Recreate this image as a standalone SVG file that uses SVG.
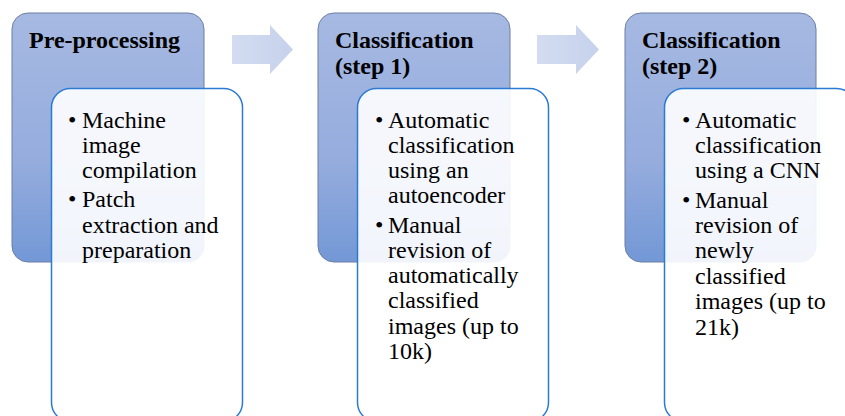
<svg xmlns="http://www.w3.org/2000/svg" width="845" height="416" viewBox="0 0 845 416">
  <defs>
    <linearGradient id="stageFill" x1="0" y1="0" x2="0" y2="1">
      <stop offset="0" stop-color="#a6b9e2"/>
      <stop offset="0.6" stop-color="#95acdd"/>
      <stop offset="1" stop-color="#7398d6"/>
    </linearGradient>
    <linearGradient id="arrowFill" x1="0" y1="0" x2="1" y2="0">
      <stop offset="0" stop-color="#d3dcf0"/>
      <stop offset="1" stop-color="#c6d2ec"/>
    </linearGradient>
  </defs>
  <style>
    .stage { fill: url(#stageFill); stroke: #6d7fa3; stroke-width: 1; }
    .detail { fill: #ffffff; fill-opacity: 0.9; stroke: #2b7bd3; stroke-width: 1.5; }
    .arrow { fill: url(#arrowFill); }
  </style>

  <rect width="845" height="416" fill="#ffffff"/>

  <!-- flow arrows between stages -->
  <g id="connectors">
    <polygon class="arrow" points="232,35 270,35 270,25 293,49.5 270,74 270,64 232,64"/>
    <polygon class="arrow" points="537,35 576,35 576,25 599,49.5 576,74 576,64 537,64"/>
  </g>

  <!-- stage 1 -->
  <g id="preprocessing" font-family="Liberation Serif" font-size="24" font-weight="bold">
    <rect class="stage" x="12" y="13" width="192" height="249" rx="16"/>
    <text x="29" y="48">Pre-processing</text>
  </g>

  <!-- stage 2 -->
  <g id="classification-step1" font-family="Liberation Serif" font-size="24" font-weight="bold">
    <rect class="stage" x="318" y="13" width="192" height="249" rx="16"/>
    <text x="335" y="48">Classification</text>
    <text x="335" y="74">(step 1)</text>
  </g>

  <!-- stage 3 -->
  <g id="classification-step2" font-family="Liberation Serif" font-size="24" font-weight="bold">
    <rect class="stage" x="625" y="13" width="191" height="249" rx="16"/>
    <text x="642" y="48">Classification</text>
    <text x="642" y="74">(step 2)</text>
  </g>

  <!-- stage 1 details -->
  <g id="preprocessing-details" font-family="Liberation Serif" font-size="24">
    <rect class="detail" x="51.5" y="88.5" width="191" height="333" rx="19"/>
    <text x="68" y="128">&#8226;</text>
    <text x="82" y="128">Machine</text>
    <text x="82" y="153">image</text>
    <text x="82" y="178">compilation</text>
    <text x="68" y="207">&#8226;</text>
    <text x="82" y="207">Patch</text>
    <text x="82" y="233">extraction and</text>
    <text x="82" y="258">preparation</text>
  </g>

  <!-- stage 2 details -->
  <g id="classification-step1-details" font-family="Liberation Serif" font-size="24">
    <rect class="detail" x="357.5" y="88.5" width="191" height="333" rx="19"/>
    <text x="375" y="128">&#8226;</text>
    <text x="388" y="128">Automatic</text>
    <text x="388" y="153">classification</text>
    <text x="388" y="178">using an</text>
    <text x="388" y="203">autoencoder</text>
    <text x="375" y="233">&#8226;</text>
    <text x="388" y="233">Manual</text>
    <text x="388" y="258">revision of</text>
    <text x="388" y="283">automatically</text>
    <text x="388" y="308">classified</text>
    <text x="388" y="334">images (up to</text>
    <text x="388" y="359">10k)</text>
  </g>

  <!-- stage 3 details -->
  <g id="classification-step2-details" font-family="Liberation Serif" font-size="24">
    <rect class="detail" x="664.5" y="88.5" width="191" height="333" rx="19"/>
    <text x="682" y="128">&#8226;</text>
    <text x="695" y="128">Automatic</text>
    <text x="695" y="153">classification</text>
    <text x="695" y="178">using a CNN</text>
    <text x="682" y="208">&#8226;</text>
    <text x="695" y="208">Manual</text>
    <text x="695" y="233">revision of</text>
    <text x="695" y="258">newly</text>
    <text x="695" y="284">classified</text>
    <text x="695" y="309">images (up to</text>
    <text x="695" y="335">21k)</text>
  </g>
</svg>
